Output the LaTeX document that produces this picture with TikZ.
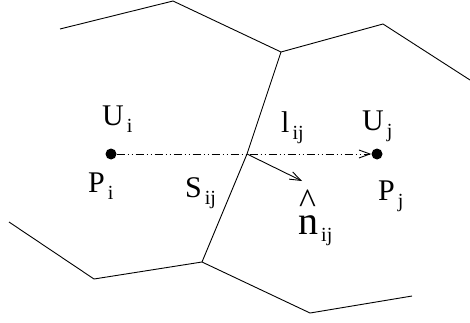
\documentclass[tikz,border=0pt]{standalone}
\usepackage{fontspec}
\setmainfont{Liberation Serif}
\usetikzlibrary{positioning, arrows.meta}
\newcommand{\sbs}[1]{\hspace{3pt}\raisebox{-7pt}{\fontsize{20}{20}\selectfont #1}}

\begin{document}
\begin{tikzpicture}[x=1pt, y=-1pt,
    every node/.style={font=\fontsize{30}{30}\selectfont, inner sep=0pt},
    cellEdge/.style={draw=black, line width=0.9pt},
    ptDot/.style={circle, fill=black, minimum size=11pt},
    lbl/.style={anchor=base west},
    linkLine/.style={line width=0.9pt,
                     dash pattern=on 8pt off 3pt on 1pt off 3pt on 1pt off 3pt,
                     -{Straight Barb[length=11pt, width=8pt]}},
    normArrow/.style={line width=0.9pt, -{Straight Barb[length=11pt, width=8pt]}},
  ]
  \useasboundingbox (0,0) rectangle (470,323);

  % cell edges
  \coordinate (t1) at (60,29);
  \coordinate (t2) at (173,1);
  \coordinate (t3) at (281,52);
  \coordinate (t4) at (383,24);
  \coordinate (t5) at (470,80);
  \coordinate (b1) at (9,222);
  \coordinate (b2) at (94,279);
  \coordinate (b3) at (202,262);
  \coordinate (b4) at (310,313);
  \coordinate (b5) at (412,296);
  \coordinate (mid) at (247,154);
  \coordinate (nTip) at (302,181);

  \draw[cellEdge] (t1) -- (t2) -- (t3) -- (t4) -- (t5);
  \draw[cellEdge] (b1) -- (b2) -- (b3) -- (b4) -- (b5);
  \draw[cellEdge] (t3) -- (mid) -- (b3);

  \node[ptDot] (Pi) at (111,154) {};
  \node[ptDot] (Pj) at (377,154) {};

  \draw[linkLine] (Pi) -- (Pj);
  \draw[normArrow] (mid) -- (nTip);

  \node[lbl] (Ui) at (102,125) {U\sbs{i}};
  \node[lbl] (PiLbl) at (88,192) {P\sbs{i}};
  \node[lbl] (Sij) at (185,197) {S\sbs{ij}};
  \node[lbl] (lij) at (281,132) {l\sbs{ij}};
  \node[lbl] (Uj) at (362,131) {U\sbs{j}};
  \node[lbl] (PjLbl) at (378,200) {P\sbs{j}};
  \node[lbl] (nij) at (298,234)
    {\makebox[0pt][l]{\hspace{1pt}\raisebox{21pt}{\fontsize{36}{36}\selectfont\textasciicircum}}%
     {\fontsize{40}{40}\selectfont n}\sbs{ij}};
\end{tikzpicture}
\end{document}
